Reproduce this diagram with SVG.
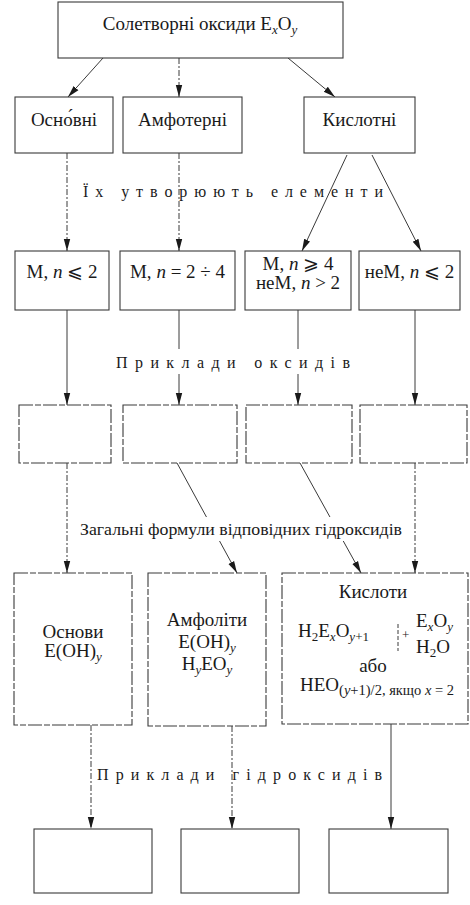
<svg xmlns="http://www.w3.org/2000/svg" width="470" height="905" viewBox="0 0 470 905">
<style>
.box{fill:#fff;stroke:#3a3a3a;stroke-width:1.1}
.dbox{fill:#fff;stroke:#3a3a3a;stroke-width:1.1;stroke-dasharray:14 2 6 2}
.t{font-family:"Liberation Serif","Times New Roman",serif;font-size:19px;fill:#1a1a1a}
.c{text-anchor:middle}
.i{font-style:italic}
.s{font-size:13px}
.sp{font-family:"Liberation Serif","Times New Roman",serif;font-size:16px;fill:#1a1a1a}
.ln{stroke:#3a3a3a;stroke-width:1;fill:none;marker-end:url(#ah)}
.dl{stroke-dasharray:6 2 2 2}
</style>
<defs>
<marker id="ah" viewBox="0 0 12 10" refX="12" refY="5" markerWidth="12" markerHeight="10" markerUnits="userSpaceOnUse" orient="auto">
<path d="M0,1.8 L12,5 L0,8.2 z" fill="#1a1a1a"/>
</marker>
</defs>
<g id="connectors">
<line class="ln" x1="103" y1="58" x2="68" y2="97"/>
<line class="ln dl" x1="179" y1="58" x2="179" y2="97"/>
<line class="ln" x1="288" y1="58" x2="335" y2="97"/>
<line class="ln dl" x1="67" y1="153" x2="67" y2="251"/>
<line class="ln dl" x1="179" y1="153" x2="179" y2="251"/>
<line class="ln" x1="347" y1="155" x2="302" y2="251"/>
<line class="ln" x1="372" y1="155" x2="421" y2="251"/>
<line class="ln" x1="67" y1="310" x2="67" y2="405"/>
<line class="ln" x1="179" y1="310" x2="179" y2="405"/>
<line class="ln" x1="298" y1="310" x2="298" y2="405"/>
<line class="ln" x1="415" y1="310" x2="415" y2="405"/>
<line class="ln dl" x1="67" y1="463" x2="67" y2="573"/>
<line class="ln" x1="177" y1="463" x2="237" y2="573"/>
<line class="ln" x1="300" y1="463" x2="361" y2="573"/>
<line class="ln dl" x1="415" y1="463" x2="415" y2="573"/>
<line class="ln dl" x1="91" y1="725" x2="91" y2="829"/>
<line class="ln dl" x1="232" y1="726" x2="232" y2="829"/>
<line class="ln" x1="391" y1="724" x2="391" y2="829"/>
</g>
<g id="lbl-elements"><text class="sp" x="83" y="197" textLength="300" lengthAdjust="spacing">Їх  утворюють  елементи</text></g>
<g id="lbl-oxides"><rect x="112" y="349" width="242" height="25" fill="#fff"/><text class="sp" x="116" y="368" textLength="234" lengthAdjust="spacing">Приклади  оксидів</text></g>
<g id="lbl-formulas"><rect x="78" y="517" width="328" height="24" fill="#fff"/><text class="sp" x="80" y="535" textLength="322" lengthAdjust="spacingAndGlyphs" style="font-size:17px">Загальні формули відповідних гідроксидів</text></g>
<g id="lbl-hydroxides"><text class="sp" x="97" y="780" textLength="285" lengthAdjust="spacing">Приклади  гідроксидів</text></g>

<g id="n-top"><rect class="box" x="58" y="2" width="285" height="56"/>
<text class="t c" x="200" y="30">Солетворні оксиди E<tspan class="s i" dy="4">x</tspan><tspan dy="-4">O</tspan><tspan class="s i" dy="4">y</tspan></text></g>

<g id="n-osnovni"><rect class="box" x="15" y="97" width="98" height="56"/><text class="t c" x="64" y="126">Осно́вні</text></g>
<g id="n-amfoterni"><rect class="box" x="123" y="97" width="119" height="56"/><text class="t c" x="182.5" y="126">Амфотерні</text></g>
<g id="n-kyslotni"><rect class="box" x="304" y="97" width="111" height="56"/><text class="t c" x="359.5" y="126">Кислотні</text></g>

<g id="n-e1"><rect class="box" x="15" y="251" width="94" height="59"/><text class="t c" x="62" y="278">M, <tspan class="i">n</tspan> ⩽ 2</text></g>
<g id="n-e2"><rect class="box" x="120" y="251" width="115" height="59"/><text class="t c" x="177.5" y="278">M, <tspan class="i">n</tspan> = 2 ÷ 4</text></g>
<g id="n-e3"><rect class="box" x="245" y="251" width="106" height="59"/><text class="t c" x="298" y="270">M, <tspan class="i">n</tspan> ⩾ 4</text><text class="t c" x="298" y="289">неМ, <tspan class="i">n</tspan> &gt; 2</text></g>
<g id="n-e4"><rect class="box" x="359" y="251" width="101" height="59"/><text class="t c" x="409.5" y="278">неМ, <tspan class="i">n</tspan> ⩽ 2</text></g>

<g id="n-ox1"><rect class="dbox" x="19" y="405" width="92" height="58"/></g>
<g id="n-ox2"><rect class="dbox" x="123" y="405" width="114" height="58"/></g>
<g id="n-ox3"><rect class="dbox" x="246" y="405" width="106" height="58"/></g>
<g id="n-ox4"><rect class="dbox" x="360" y="405" width="107" height="58"/></g>

<g id="n-osnovy"><rect class="dbox" x="14" y="573" width="118" height="152"/>
<text class="t c" x="73" y="638">Основи</text>
<text class="t c" x="73" y="657">E(OH)<tspan class="s i" dy="4">y</tspan></text></g>

<g id="n-amfolity"><rect class="dbox" x="148" y="573" width="118" height="153"/>
<text class="t c" x="207" y="626">Амфоліти</text>
<text class="t c" x="207" y="648">E(OH)<tspan class="s i" dy="4">y</tspan></text>
<text class="t c" x="207" y="670">H<tspan class="s i" dy="4">y</tspan><tspan dy="-4">EO</tspan><tspan class="s i" dy="4">y</tspan></text></g>

<g id="n-kysloty"><rect class="dbox" x="282" y="573" width="186" height="151"/>
<text class="t c" x="373" y="598">Кислоти</text>
<text class="t" x="298" y="637">H<tspan class="s" dy="4">2</tspan><tspan dy="-4">E</tspan><tspan class="s i" dy="4">x</tspan><tspan dy="-4">O</tspan><tspan class="s" dy="4"><tspan class="i">y</tspan>+1</tspan></text>
<line x1="398" y1="624" x2="398" y2="651" stroke="#3a3a3a" stroke-width="1" stroke-dasharray="4 2"/>
<text class="t s" x="402" y="639">+</text>
<text class="t" x="416" y="627">E<tspan class="s i" dy="4">x</tspan><tspan dy="-4">O</tspan><tspan class="s i" dy="4">y</tspan></text>
<text class="t" x="416" y="653">H<tspan class="s" dy="4">2</tspan><tspan dy="-4">O</tspan></text>
<text class="t c" x="373" y="672">або</text>
<text class="t" x="300" y="691">HEO<tspan class="s" dy="4" style="font-size:14.5px">(<tspan class="i">y</tspan>+1)/2, якщо <tspan class="i">x</tspan> = 2</tspan></text></g>

<g id="n-h1"><rect class="box" x="34" y="829" width="118" height="64"/></g>
<g id="n-h2"><rect class="box" x="181" y="829" width="118" height="64"/></g>
<g id="n-h3"><rect class="box" x="329" y="829" width="119" height="64"/></g>
</svg>
